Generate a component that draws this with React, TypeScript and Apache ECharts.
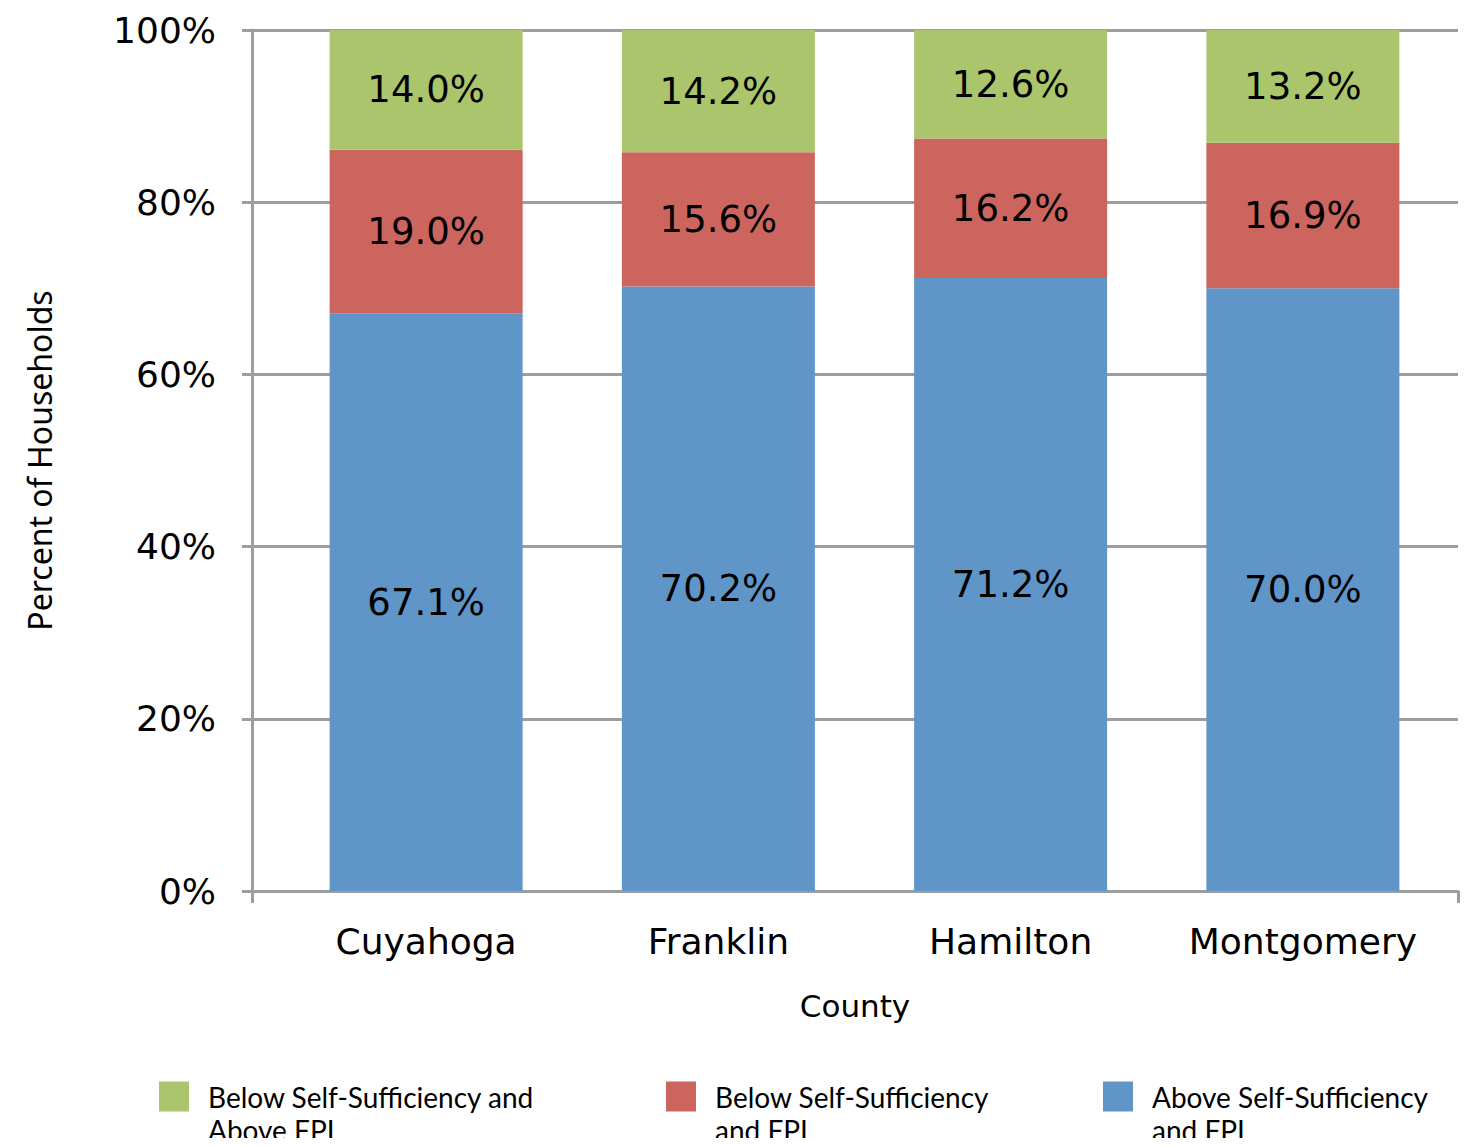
import React, { useEffect, useRef } from "react";
import * as echarts from "echarts";

const counties = ["Cuyahoga", "Franklin", "Hamilton", "Montgomery"];
const aboveSSandFPL = [67.1, 70.2, 71.2, 70.0];
const belowSSandFPL = [19.0, 15.6, 16.2, 16.9];
const belowSSaboveFPL = [14.0, 14.2, 12.6, 13.2];
const yTicks = [0, 20, 40, 60, 80, 100];

const seriesNames = {
  green: "Below Self-Sufficiency and\nAbove FPL",
  red: "Below Self-Sufficiency\nand FPL",
  blue: "Above Self-Sufficiency\nand FPL",
};
const colors = { green: "#ABC56D", red: "#CD655F", blue: "#6095C8" };
const gridColor = "#9D9D9D";
const mainFont = "DejaVu Sans";

export default function App() {
  const ref = useRef<HTMLDivElement>(null);
  useEffect(() => {
    if (!ref.current) return;
    const chart = echarts.init(ref.current, null, { renderer: "svg" });
    const label = {
      show: true,
      position: "inside",
      color: "#000",
      fontFamily: mainFont,
      fontSize: 37,
      formatter: (p: any) => Number(p.value).toFixed(1) + "%",
    };
    const legendText = {
      fontFamily: "Lato",
      fontSize: 28,
      color: "#000",
      lineHeight: 33,
      rich: {
        t: {
          fontFamily: "Lato",
          fontSize: 28,
          color: "#000",
          lineHeight: 33,
          padding: [0, 0, 0, 14],
        },
      },
    };
    const mkLegend = (name: string, left: number) => ({
      data: [name],
      left,
      top: 1042,
      itemWidth: 30,
      itemHeight: 30,
      itemGap: 20,
      icon: "rect",
      selectedMode: false,
      textStyle: legendText,
      formatter: (n: string) =>
        "{t| }\n" + n.split("\n").map((s) => "{t|" + s + "}").join("\n"),
    });
    const yMin = yTicks[0];
    const yMax = yTicks[yTicks.length - 1];
    chart.setOption({
      animation: false,
      backgroundColor: "#fff",
      grid: [
        { left: 252, right: 19, top: 30, bottom: 255, containLabel: false },
        { left: 280, right: 28, top: 30, bottom: 255, containLabel: false },
      ],
      legend: [
        mkLegend(seriesNames.green, 154),
        mkLegend(seriesNames.red, 661),
        mkLegend(seriesNames.blue, 1098),
      ],
      xAxis: [
        {
          type: "category",
          gridIndex: 0,
          data: counties,
          name: "County",
          nameLocation: "middle",
          nameGap: 99,
          nameTextStyle: { fontFamily: mainFont, fontSize: 31, color: "#000" },
          axisLine: { lineStyle: { color: gridColor, width: 3 } },
          axisTick: {
            show: true,
            length: 12,
            interval: (i: number) => i === 0,
            lineStyle: { color: gridColor, width: 3 },
          },
          axisLabel: { show: false },
        },
        {
          type: "category",
          gridIndex: 1,
          data: counties,
          axisLine: { show: false },
          axisTick: { show: false },
          axisLabel: {
            interval: 0,
            fontFamily: mainFont,
            fontSize: 36,
            color: "#000",
            margin: 32,
            lineHeight: 36,
          },
        },
      ],
      yAxis: [
        {
          type: "value",
          gridIndex: 0,
          min: yMin,
          max: yMax,
          interval: 20,
          name: "Percent of Households",
          nameLocation: "middle",
          nameGap: 197,
          nameTextStyle: { fontFamily: "Noto Sans", fontSize: 32, color: "#000" },
          axisLine: { show: true, lineStyle: { color: gridColor, width: 3 } },
          axisTick: { show: true, length: 10, lineStyle: { color: gridColor, width: 3 } },
          axisLabel: {
            fontFamily: mainFont,
            fontSize: 36,
            color: "#000",
            margin: 36,
            formatter: "{value}%",
          },
          splitLine: { show: true, lineStyle: { color: gridColor, width: 3 } },
        },
        {
          type: "value",
          gridIndex: 1,
          min: yMin,
          max: yMax,
          interval: 20,
          show: false,
          splitLine: { show: false },
        },
      ],
      series: [
        {
          name: seriesNames.blue,
          type: "bar",
          stack: "total",
          xAxisIndex: 1,
          yAxisIndex: 1,
          data: aboveSSandFPL,
          barWidth: 193,
          itemStyle: { color: colors.blue },
          label,
        },
        {
          name: seriesNames.red,
          type: "bar",
          stack: "total",
          xAxisIndex: 1,
          yAxisIndex: 1,
          data: belowSSandFPL,
          barWidth: 193,
          itemStyle: { color: colors.red },
          label,
        },
        {
          name: seriesNames.green,
          type: "bar",
          stack: "total",
          xAxisIndex: 1,
          yAxisIndex: 1,
          data: belowSSaboveFPL,
          barWidth: 193,
          itemStyle: { color: colors.green },
          label,
        },
      ],
    });
    return () => chart.dispose();
  }, []);
  return <div ref={ref} style={{ width: 1477, height: 1146, margin: -8 }} />;
}
